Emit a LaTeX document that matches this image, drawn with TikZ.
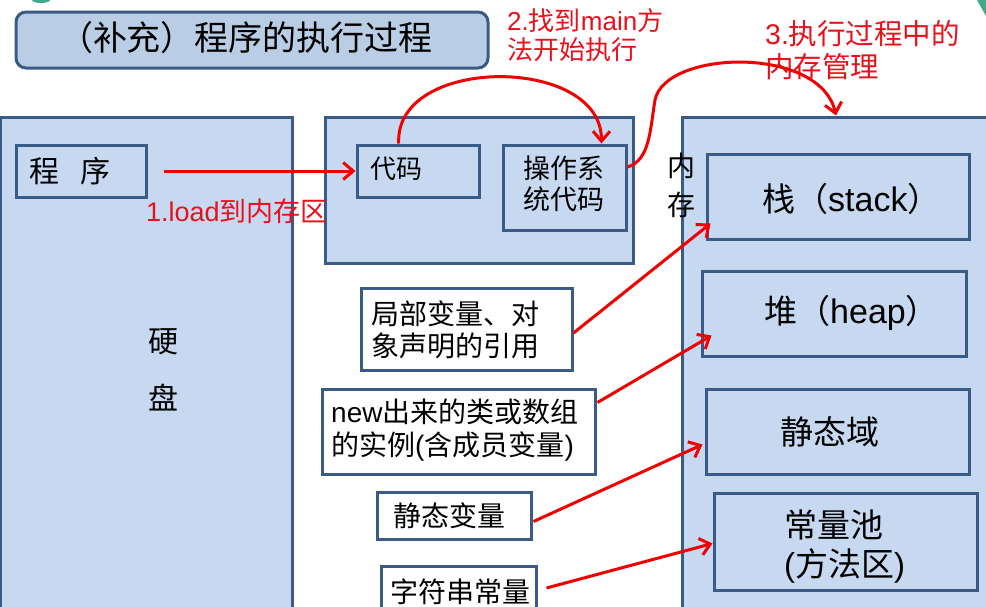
\documentclass[tikz,border=0pt]{standalone}
\usepackage{fontspec}
\setmainfont{Liberation Sans}
\newfontfamily\cjk{Noto Sans CJK SC}
\usetikzlibrary{arrows.meta}
\definecolor{boxfill}{HTML}{C6D9F1}
\definecolor{titlefill}{HTML}{B9CDE5}
\definecolor{boxline}{HTML}{3B5B87}
\definecolor{arrowred}{HTML}{F00000}
\definecolor{labelred}{HTML}{E8101A}
\definecolor{deco}{HTML}{3DAA8F}
\tikzset{
  bluebox/.style={draw=boxline, line width=3pt, fill=boxfill, inner sep=0pt, rectangle},
  whitebox/.style={draw=boxline, line width=3pt, fill=white, inner sep=0pt, rectangle},
  lbl/.style={inner sep=0pt, text=black, font=\cjk\fontsize{28}{32}\selectfont},
  biglbl/.style={inner sep=0pt, text=black, font=\cjk\fontsize{33}{38}\selectfont},
  redlbl/.style={inner sep=0pt, text=labelred, align=left},
  redarrow/.style={draw=arrowred, line width=3pt, -{Straight Barb[length=10pt,width=17pt]}},
}
\begin{document}
\begin{tikzpicture}[x=1pt,y=-1pt]
\useasboundingbox (0,0) rectangle (986,606);
\fill[white] (0,0) rectangle (986,606);
\clip (0,0) rectangle (986,606);
% decorations
\fill[deco] (41,0) ellipse [x radius=9pt, y radius=3pt];
\fill[deco] (977,0) -- (986,0) -- (986,16) -- cycle;
% title
\node[draw=boxline, line width=3pt, fill=titlefill, rounded corners=10pt, inner sep=0pt,
      minimum width=472pt, minimum height=56pt] (title) at (252,40) {};
\node[inner sep=0pt, font=\cjk\fontsize{34}{40}\selectfont] (titletext) at (246,38) {（补充）程序的执行过程};
% hard disk
\node[bluebox, minimum width=292pt, minimum height=493pt] (disk) at (146,363.5) {};
\node[bluebox, minimum width=130pt, minimum height=52pt] (prog) at (81,171) {};
\node[inner sep=0pt, font=\cjk\fontsize{30}{36}\selectfont] (progtext) at (70,171) {程\hspace{21pt}序};
\node[inner sep=0pt, font=\cjk\fontsize{30}{36}\selectfont] (ying) at (163,342) {硬};
\node[inner sep=0pt, font=\cjk\fontsize{30}{36}\selectfont] (pan) at (163,398) {盘};
% loaded area
\node[bluebox, minimum width=308pt, minimum height=146pt] (area) at (479,190) {};
\node[bluebox, minimum width=122pt, minimum height=52pt] (code) at (418,171) {};
\node[lbl, font=\cjk\fontsize{26}{31}\selectfont] (codetext) at (396,169) {代码};
\node[bluebox, minimum width=123pt, minimum height=85pt] (os) at (564.5,187.5) {};
\node[lbl, font=\cjk\fontsize{27}{31}\selectfont, align=center] (ostext) at (564,184) {操作系\\统代码};
% memory
\node[bluebox, minimum width=308pt, minimum height=493pt] (mem) at (836,363.5) {};
\node[inner sep=0pt, font=\cjk\fontsize{28}{34}\selectfont] (nei) at (681,166) {内};
\node[inner sep=0pt, font=\cjk\fontsize{28}{34}\selectfont] (cun) at (681,205) {存};
\node[bluebox, minimum width=262pt, minimum height=85pt] (stack) at (838,196.5) {};
\node[biglbl, anchor=west] (stacktext) at (762,199) {栈（{\rmfamily\fontsize{34}{38}\selectfont stack}）};
\node[bluebox, minimum width=264pt, minimum height=85pt] (heap) at (834,313.5) {};
\node[biglbl, anchor=west] (heaptext) at (764,313) {堆（{\rmfamily\fontsize{34}{38}\selectfont heap}）};
\node[bluebox, minimum width=263pt, minimum height=85pt] (static) at (837.5,431.5) {};
\node[biglbl] (statictext) at (830,432) {静态域};
\node[bluebox, minimum width=263pt, minimum height=97pt] (const) at (845.5,541.5) {};
\node[biglbl, anchor=west] (consttext) at (784,524.5) {常量池};
\node[biglbl, anchor=west] (methodtext) at (784,566) {{\rmfamily (}方法区{\rmfamily )}};
% white boxes
\node[whitebox, minimum width=211pt, minimum height=82pt] (local) at (466.5,329) {};
\node[lbl, anchor=west, align=left] (localtext) at (371,330) {局部变量、对\\象声明的引用};
\node[whitebox, minimum width=273pt, minimum height=85pt] (newb) at (458.5,431.5) {};
\node[lbl, anchor=west, align=left, font=\cjk\fontsize{28}{33}\selectfont] (newtext) at (331,430)
  {{\rmfamily new}出来的类或数组\\的实例{\rmfamily (}含成员变量{\rmfamily )}};
\node[whitebox, minimum width=154pt, minimum height=47pt] (sv) at (454,515.5) {};
\node[lbl] (svtext) at (449,516) {静态变量};
\node[whitebox, minimum width=155pt, minimum height=48pt] (str) at (458.5,590) {};
\node[lbl] (strtext) at (460,592) {字符串常量};
% red labels
\node[redlbl, anchor=west, font=\fontsize{27}{30}\selectfont] (lab1) at (146,211) {1.load{\cjk 到内存区}};
\node[redlbl, anchor=west, font=\fontsize{26}{29}\selectfont] (lab2) at (507,35.5) {2.{\cjk 找到}main{\cjk 方}\\{\cjk 法开始执行}};
\node[redlbl, anchor=west, font=\fontsize{28.5}{33}\selectfont] (lab3) at (765,50.5) {3.{\cjk 执行过程中的}\\{\cjk 内存管理}};
% arrows
\draw[redarrow] ([xshift=16pt]prog.east) -- (code.west);
\draw[redarrow] (code.125) .. controls (394,55) and (602,55) .. (os.50);
\draw[redarrow] (os.18) .. controls (650,160) and (650,130) .. (655,100)
   .. controls (665,50) and (820,45) .. (mem.north);
\draw[redarrow] ([shift={(0,4)}]local.east) -- ([shift={(5,-17)}]stack.south west);
\draw[redarrow] ([shift={(1,15)}]newb.north east) -- ([shift={(11,-22)}]heap.south west);
\draw[redarrow] ([shift={(1,6)}]sv.east) -- ([shift={(-2,13)}]static.west);
\draw[redarrow] ([shift={(9,-2)}]str.east) -- ([shift={(0,2)}]const.west);
\end{tikzpicture}
\end{document}
